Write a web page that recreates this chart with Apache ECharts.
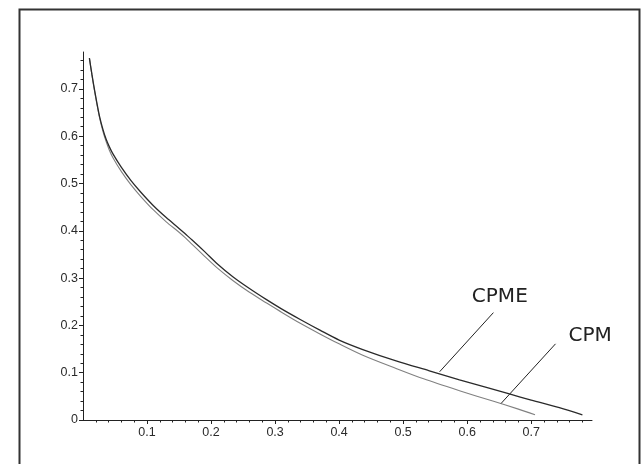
<!DOCTYPE html>
<html>
<head>
<meta charset="utf-8">
<style>
  html, body { margin: 0; padding: 0; background: #ffffff; }
  #chart { width: 642px; height: 464px; }
</style>
<script src="https://cdn.jsdelivr.net/npm/echarts@6/dist/echarts.min.js"></script>
</head>
<body>
<div id="chart"></div>
<script>
// CPME curve
const cpmeX = [0.010, 0.014, 0.018, 0.022, 0.026, 0.031, 0.036, 0.041, 0.047, 0.060,
               0.075, 0.090, 0.110, 0.130, 0.150, 0.160, 0.170, 0.190, 0.210, 0.234,
               0.260, 0.286, 0.310, 0.340, 0.370, 0.400, 0.437, 0.489, 0.541, 0.588,
               0.630, 0.666, 0.700, 0.744, 0.780];
const cpmeY = [0.765, 0.730, 0.698, 0.668, 0.641, 0.615, 0.594, 0.578, 0.562, 0.534,
               0.506, 0.482, 0.453, 0.428, 0.405, 0.393, 0.381, 0.356, 0.330, 0.303,
               0.278, 0.255, 0.235, 0.212, 0.190, 0.169, 0.149, 0.125, 0.104, 0.085,
               0.069, 0.055, 0.042, 0.026, 0.011];

// CPM curve
const cpmX = [0.010, 0.014, 0.018, 0.022, 0.026, 0.031, 0.036, 0.041, 0.047, 0.060,
              0.075, 0.090, 0.110, 0.130, 0.150, 0.160, 0.170, 0.190, 0.210, 0.234,
              0.260, 0.286, 0.310, 0.340, 0.370, 0.400, 0.437, 0.489, 0.532, 0.588,
              0.640, 0.680, 0.706];
const cpmY = [0.765, 0.729, 0.696, 0.666, 0.638, 0.611, 0.589, 0.571, 0.554, 0.525,
              0.497, 0.473, 0.444, 0.419, 0.397, 0.385, 0.372, 0.346, 0.321, 0.295,
              0.270, 0.248, 0.228, 0.204, 0.182, 0.161, 0.137, 0.109, 0.087, 0.062,
              0.040, 0.023, 0.011];

// Axis tick labels
const xTickLabels = [0.1, 0.2, 0.3, 0.4, 0.5, 0.6, 0.7];
const yTickLabels = [0, 0.1, 0.2, 0.3, 0.4, 0.5, 0.6, 0.7];

// Curve captions (data-space centre) and their leader lines
const captionNames = ['CPME', 'CPM'];
const captionAt = [[0.651, 0.261], [0.792, 0.179]];
const leaderFrom = [[0.641, 0.227], [0.738, 0.161]];
const leaderTo = [[0.557, 0.102], [0.653, 0.035]];

const X_MAX = 0.795;
const Y_MAX = 0.778;

// minor tick positions every `step`, skipping the labelled tenths
function minorValues(max, step) {
  const out = [];
  for (let i = 1; i * step <= max + 1e-9; i++) {
    const v = +(i * step).toFixed(4);
    if (Math.abs(v * 10 - Math.round(v * 10)) > 1e-6) out.push(v);
  }
  return out;
}

const labelFont = { fontFamily: 'Liberation Sans', fontSize: 12.5, color: '#2a2a2a' };
const axisInk = '#222';

function pairs(xs, ys) { return xs.map((x, i) => [x, ys[i]]); }

const chart = echarts.init(document.getElementById('chart'), null, { renderer: 'canvas' });

chart.setOption({
  animation: false,
  backgroundColor: '#ffffff',
  grid: { left: 83, right: 50, top: 52, bottom: 44, containLabel: false },
  xAxis: [
    {
      type: 'value', min: 0, max: X_MAX, position: 'bottom',
      axisLine: { show: true, onZero: false, lineStyle: { color: axisInk, width: 1 } },
      axisTick: { show: true, customValues: xTickLabels, length: 4, lineStyle: { color: axisInk } },
      axisLabel: { show: true, customValues: xTickLabels, margin: 6, ...labelFont,
                   formatter: v => String(+v.toFixed(2)) },
      splitLine: { show: false }
    },
    {
      type: 'value', min: 0, max: X_MAX, position: 'bottom',
      axisLine: { show: false },
      axisTick: { show: true, customValues: minorValues(X_MAX, 0.02), length: 2.5, lineStyle: { color: axisInk } },
      axisLabel: { show: false },
      splitLine: { show: false }
    }
  ],
  yAxis: [
    {
      type: 'value', min: 0, max: Y_MAX, position: 'left',
      axisLine: { show: true, onZero: false, lineStyle: { color: axisInk, width: 1 } },
      axisTick: { show: true, customValues: yTickLabels, length: 4, lineStyle: { color: axisInk } },
      axisLabel: { show: true, customValues: yTickLabels, margin: 5, ...labelFont,
                   formatter: v => String(+v.toFixed(2)) },
      splitLine: { show: false }
    },
    {
      type: 'value', min: 0, max: Y_MAX, position: 'left',
      axisLine: { show: false },
      axisTick: { show: true, customValues: minorValues(Y_MAX, 0.02), length: 2.5, lineStyle: { color: axisInk } },
      axisLabel: { show: false },
      splitLine: { show: false }
    }
  ],
  series: [
    {
      name: 'CPME', type: 'line', xAxisIndex: 0, yAxisIndex: 0,
      data: pairs(cpmeX, cpmeY), showSymbol: false, smooth: 0.3,
      lineStyle: { color: '#2a2a2a', width: 1.3 }, z: 3
    },
    {
      name: 'CPM', type: 'line', xAxisIndex: 0, yAxisIndex: 0,
      data: pairs(cpmX, cpmY), showSymbol: false, smooth: 0.3,
      lineStyle: { color: '#808080', width: 1.1 }, z: 2
    }
  ].map(s => {
    const k = captionNames.indexOf(s.name);
    s.markLine = {
      silent: true, symbol: 'none', animation: false,
      label: { show: false },
      lineStyle: { color: '#222', width: 1, type: 'solid' },
      data: [[{ coord: leaderFrom[k] }, { coord: leaderTo[k] }]]
    };
    s.markPoint = {
      silent: true, symbol: 'circle', symbolSize: 0, animation: false,
      data: [{ coord: captionAt[k], value: captionNames[k] }],
      label: {
        show: true, position: 'inside', formatter: captionNames[k],
        fontFamily: 'DejaVu Sans', fontSize: 20, color: '#222'
      }
    };
    return s;
  }),
  graphic: [
    {
      type: 'rect', left: 17, top: 7, silent: true, z: 10,
      shape: { width: 620, height: 470 },
      style: { fill: 'none', stroke: '#333', lineWidth: 2 }
    }
  ]
});
</script>
</body>
</html>
